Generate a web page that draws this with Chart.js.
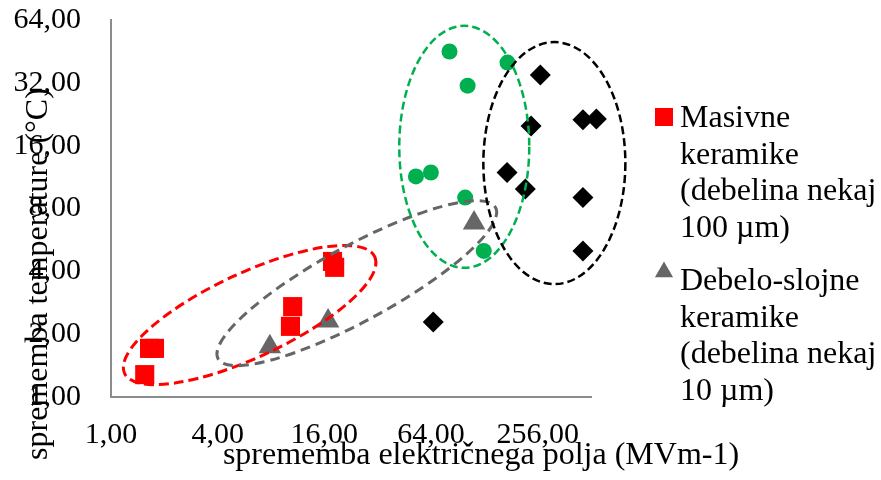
<!DOCTYPE html>
<html><head><meta charset="utf-8">
<script src="https://cdn.jsdelivr.net/npm/chart.js@4/dist/chart.umd.min.js"></script>
<style>html,body{margin:0;padding:0;background:#fff}#wrap{width:881px;height:480px;position:relative}</style>
</head><body><div id="wrap"><canvas id="c" width="881" height="480" style="width:881px;height:480px"></canvas></div>
<script>
// ---- data ----
const xTickValues = [1, 4, 16, 64, 256];
const yTickValues = [1, 2, 4, 8, 16, 32, 64];
const xTitle = 'sprememba električnega polja (MVm-1)';
const yTitle = 'sprememba temperature (°C)';
const seriesNames = [
  ['Masivne', 'keramike', '(debelina nekaj', '100 µm)'],
  ['Debelo-slojne', 'keramike', '(debelina nekaj', '10 µm)'],
  'Serija 3',
  'Serija 4'
];
const masivneX = [1.55, 1.65, 1.76, 10.3, 10.6, 17.8, 18.3];
const masivneY = [1.28, 1.71, 1.71, 2.18, 2.71, 4.46, 4.18];
const debeloX = [7.88, 16.8, 112];
const debeloY = [1.74, 2.31, 6.82];
const zelenaX = [81.4, 173, 103, 52.6, 63.9, 99.8, 127];
const zelenaY = [45.2, 40.0, 31.0, 11.4, 11.9, 9.02, 5.01];
const crnaX = [265, 235, 461, 549, 172, 218, 461, 461, 65.9];
const crnaY = [34.9, 19.9, 21.3, 21.5, 11.9, 9.93, 9.02, 5.01, 2.29];

const pts = (xs, ys) => xs.map((x, i) => ({x: x, y: ys[i]}));
const fmt = v => Number(v).toFixed(2).replace('.', ',');
const SERIF = '"Liberation Serif", "Times New Roman", serif';

const decor = {
  id: 'decor',
  afterDatasetsDraw(chart, args, opts) {
    const ctx = chart.ctx, xs = chart.scales.x, ys = chart.scales.y;
    opts.ellipses.forEach(e => {
      const px = xs.getPixelForValue(e.cx), py = ys.getPixelForValue(e.cy);
      ctx.save();
      ctx.translate(px, py);
      ctx.rotate(e.angle * Math.PI / 180);
      ctx.beginPath();
      ctx.ellipse(0, 0, e.rx, e.ry, 0, 0, 2 * Math.PI);
      ctx.setLineDash(e.dash);
      ctx.lineWidth = e.width;
      ctx.strokeStyle = e.color;
      ctx.stroke();
      ctx.restore();
    });
  },
  afterDraw(chart, args, opts) {
    const ctx = chart.ctx;
    ctx.save();
    ctx.fillStyle = '#000';
    ctx.font = '32px ' + SERIF;
    ctx.textAlign = 'center';
    ctx.textBaseline = 'alphabetic';
    ctx.fillText(xTitle, opts.xTitleX, opts.xTitleY);
    ctx.save();
    ctx.translate(opts.yTitleX, opts.yTitleY);
    ctx.rotate(-Math.PI / 2);
    ctx.fillText(yTitle, 0, 0);
    ctx.restore();
    // legend
    opts.legend.forEach((L, i) => {
      const ds = chart.data.datasets[i];
      ctx.fillStyle = ds.backgroundColor;
      Chart.helpers.drawPoint(ctx, {pointStyle: ds.pointStyle, radius: L.r, rotation: 0, borderWidth: 0}, L.mx, L.my);
      ctx.fillStyle = '#000';
      ctx.textAlign = 'left';
      ctx.font = '32px ' + SERIF;
      ds.label.forEach((line, k) => ctx.fillText(line, L.tx, L.ty + k * opts.lineGap));
    });
    ctx.restore();
  }
};

new Chart(document.getElementById('c'), {
  type: 'scatter',
  data: {
    datasets: [
      {label: seriesNames[0], data: pts(masivneX, masivneY), pointStyle: 'rect', pointRadius: 13.5, backgroundColor: '#ff0000', borderWidth: 0, clip: false},
      {label: seriesNames[1], data: pts(debeloX, debeloY), pointStyle: 'triangle', pointRadius: 13, backgroundColor: '#666666', borderWidth: 0, clip: false},
      {label: seriesNames[2], data: pts(zelenaX, zelenaY), pointStyle: 'circle', pointRadius: 8, backgroundColor: '#00b050', borderWidth: 0, clip: false},
      {label: seriesNames[3], data: pts(crnaX, crnaY), pointStyle: 'rectRot', pointRadius: 10.5, backgroundColor: '#000000', borderWidth: 0, clip: false}
    ]
  },
  options: {
    responsive: false,
    animation: false,
    events: [],
    devicePixelRatio: 1,
    layout: {padding: {left: 0, top: 20, right: 290, bottom: 0}},
    scales: {
      x: {
        type: 'logarithmic', position: 'bottom', min: 1, max: 512,
        afterBuildTicks: s => { s.ticks = xTickValues.map(v => ({value: v})); },
        afterFit: s => { s.height = 83; s.paddingLeft = 0; s.paddingRight = 0; s.paddingTop = 0; s.paddingBottom = 0; },
        ticks: {callback: v => fmt(v), font: {family: SERIF, size: 30}, color: '#000', padding: 20, maxRotation: 0, autoSkip: false},
        grid: {display: false, drawTicks: false},
        border: {display: true, color: '#8c8c8c', width: 2}
      },
      y: {
        type: 'logarithmic', position: 'left', min: 1, max: 64,
        afterBuildTicks: s => { s.ticks = yTickValues.map(v => ({value: v})); },
        afterFit: s => { s.width = 111; s.paddingLeft = 0; s.paddingRight = 0; s.paddingTop = 0; s.paddingBottom = 0; },
        ticks: {callback: v => fmt(v), font: {family: SERIF, size: 30}, color: '#000', padding: 30, autoSkip: false},
        grid: {display: false, drawTicks: false},
        border: {display: true, color: '#8c8c8c', width: 2}
      }
    },
    plugins: {
      legend: {display: false},
      tooltip: {enabled: false},
      decor: {
        xTitleX: 481, xTitleY: 464,
        yTitleX: 47, yTitleY: 274,
        lineGap: 36.5,
        legend: [
          {mx: 664, my: 117, r: 12.7, tx: 680, ty: 127},
          {mx: 664, my: 272, r: 10.5, tx: 680, ty: 290}
        ],
        ellipses: [
          {color: '#ff0000', cx: 6.06, cy: 2.47, rx: 138, ry: 42, angle: -25, width: 3, dash: [10, 5]},
          {color: '#666666', cx: 24.4, cy: 3.51, rx: 158, ry: 37.6, angle: -28.6, width: 3, dash: [10, 6]},
          {color: '#00b050', cx: 98.6, cy: 15.8, rx: 65, ry: 121, angle: 0, width: 2.5, dash: [8, 4]},
          {color: '#000000', cx: 318, cy: 13.2, rx: 71, ry: 121, angle: 0, width: 2.5, dash: [8, 4]}
        ]
      }
    }
  },
  plugins: [decor]
});
</script></body></html>
